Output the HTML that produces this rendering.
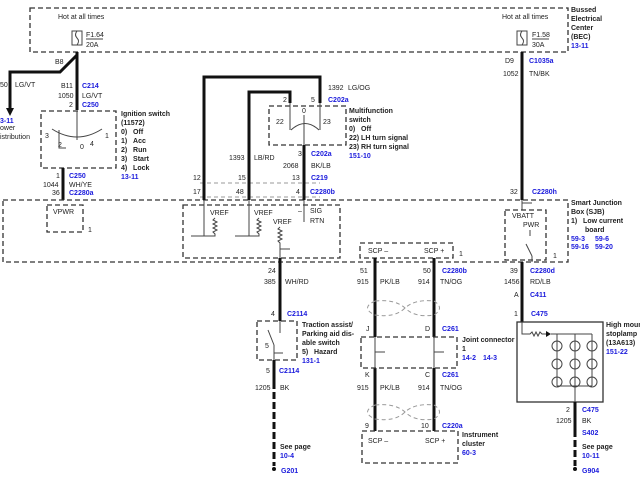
<!DOCTYPE html>
<html><head><style>
body{margin:0;background:#fff}
svg{display:block}
text{font-family:"Liberation Sans",sans-serif;font-size:7px;fill:#222}
.b{fill:#1a1adc;font-weight:bold}
.k{font-weight:bold}
.d{fill:none;stroke:#333;stroke-width:1.3;stroke-dasharray:5,3}
.g{fill:none;stroke:#999;stroke-width:1;stroke-dasharray:4,3}
.t{stroke:#111;stroke-width:3;fill:none}
.n{stroke:#444;stroke-width:1;fill:none}
</style></head><body>
<svg width="640" height="480" viewBox="0 0 640 480">
<!-- BEC -->
<rect x="30" y="8" width="538" height="44" class="d"/>
<text x="58" y="19">Hot at all times</text>
<text x="502" y="19">Hot at all times</text>
<rect x="72" y="31" width="10" height="14" class="n"/><path d="M77 31q-3 4 0 7t0 7" class="n"/>
<text x="86" y="37">F1.64</text><line x1="86" y1="39" x2="103" y2="39" class="n"/><text x="86" y="47">20A</text>
<rect x="517" y="31" width="10" height="14" class="n"/><path d="M522 31q-3 4 0 7t0 7" class="n"/>
<text x="532" y="37">F1.58</text><line x1="532" y1="39" x2="549" y2="39" class="n"/><text x="532" y="47">30A</text>
<text x="571" y="12" class="k">Bussed</text><text x="571" y="21" class="k">Electrical</text><text x="571" y="30" class="k">Center</text><text x="571" y="39" class="k">(BEC)</text><text x="571" y="48" class="b">13-11</text>
<!-- left feed -->
<path d="M77 55L60 72H10V110" class="t"/><path d="M6 108L10 116L14 108Z" fill="#111"/>
<text x="55" y="64">B8</text><text x="0" y="87">50</text><text x="15" y="87">LG/VT</text>
<text x="0" y="123" class="b">3-11</text><text x="0" y="130">ower</text><text x="0" y="139">istribution</text>
<path d="M77 52V110" class="t"/>
<text x="61" y="88">B11</text><text x="82" y="88" class="b">C214</text>
<text x="58" y="98">1050</text><text x="82" y="98">LG/VT</text>
<text x="69" y="107">2</text><text x="82" y="107" class="b">C250</text>
<!-- ignition -->
<rect x="41" y="111" width="75" height="57" class="d"/>
<path d="M77 111V140M52 129Q77 145 102 129M59 130V148H66" class="n"/>
<text x="45" y="138">3</text><text x="58" y="147">2</text><text x="80" y="149">0</text><text x="90" y="146">4</text><text x="105" y="138">1</text>
<text x="121" y="116" class="k">Ignition switch</text><text x="121" y="125" class="k">(11572)</text>
<text x="121" y="134" class="k">0)&#160;&#160;&#160;Off</text><text x="121" y="143" class="k">1)&#160;&#160;&#160;Acc</text><text x="121" y="152" class="k">2)&#160;&#160;&#160;Run</text><text x="121" y="161" class="k">3)&#160;&#160;&#160;Start</text><text x="121" y="170" class="k">4)&#160;&#160;&#160;Lock</text><text x="121" y="179" class="b">13-11</text>
<path d="M63 168V200" class="t"/>
<text x="56" y="178">1</text><text x="69" y="178" class="b">C250</text>
<text x="43" y="187">1044</text><text x="69" y="187">WH/YE</text>
<text x="52" y="195">36</text><text x="69" y="195" class="b">C2280a</text>
<!-- SJB -->
<rect x="3" y="200" width="565" height="62" class="d"/>
<text x="571" y="205" class="k">Smart Junction</text><text x="571" y="214" class="k">Box (SJB)</text><text x="571" y="223" class="k">1)&#160;&#160;&#160;Low current</text><text x="585" y="232" class="k">board</text>
<text x="571" y="241" class="b">59-3</text><text x="595" y="241" class="b">59-6</text><text x="571" y="249" class="b">59-16</text><text x="595" y="249" class="b">59-20</text>
<rect x="47" y="205" width="36" height="27" class="d"/><text x="53" y="214">VPWR</text><text x="88" y="232">1</text>
<rect x="183" y="205" width="157" height="53" class="d"/>
<line x1="200" y1="183" x2="320" y2="183" class="g"/><line x1="200" y1="197" x2="320" y2="197" class="g"/>
<path d="M204 200V77H320V103M249 200V92H290V103" class="t"/>
<path d="M304 145V200" class="t"/>
<text x="193" y="180">12</text><text x="238" y="180">15</text><text x="292" y="180">13</text>
<text x="193" y="194">17</text><text x="236" y="194">48</text><text x="296" y="194">4</text><text x="310" y="194" class="b">C2280b</text>
<text x="229" y="160">1393</text><text x="254" y="160">LB/RD</text>
<path d="M204 200V236H191M249 200V236H235M280 258V249H290M304 200V222" class="n"/>
<path d="M215 218l-2 2 4 2-4 2 4 2-4 2 4 2-4 2 2 2V236H204M259 218l-2 2 4 2-4 2 4 2-4 2 4 2-4 2 2 2V236H249M280 227l-2 2 4 2-4 2 4 2-4 2 4 2-4 2 2 2V258" class="n"/>
<text x="210" y="215">VREF</text><text x="254" y="215">VREF</text><text x="273" y="224">VREF</text>
<text x="298" y="213">–</text><text x="310" y="213">SIG</text><text x="310" y="223">RTN</text>
<!-- multifunction -->
<rect x="269" y="106" width="77" height="39" class="d"/>
<path d="M290 103V130M320 103V130M291 130Q305 117 319 130M304 115V145" class="n"/>
<text x="328" y="90">1392</text><text x="348" y="90">LG/OG</text>
<text x="283" y="102">2</text><text x="311" y="102">5</text><text x="328" y="102" class="b">C202a</text>
<text x="276" y="124">22</text><text x="323" y="124">23</text><text x="302" y="113">0</text>
<text x="349" y="113" class="k">Multifunction</text><text x="349" y="122" class="k">switch</text><text x="349" y="131" class="k">0)&#160;&#160;&#160;Off</text><text x="349" y="140" class="k">22) LH turn signal</text><text x="349" y="149" class="k">23) RH turn signal</text><text x="349" y="158" class="b">151-10</text>
<text x="298" y="156">3</text><text x="311" y="156" class="b">C202a</text>
<text x="283" y="168">2068</text><text x="311" y="168">BK/LB</text>
<text x="311" y="180" class="b">C219</text>
<!-- traction -->
<path d="M280 258V321" class="t"/>
<text x="268" y="273">24</text><text x="264" y="284">385</text><text x="285" y="284">WH/RD</text>
<text x="271" y="316">4</text><text x="287" y="316" class="b">C2114</text>
<rect x="257" y="321" width="40" height="39" class="d"/>
<path d="M280 321V333M268 330L274 345M274 345V360M274 353H283" class="n"/><text x="265" y="348">5</text>
<text x="302" y="327" class="k">Traction assist/</text><text x="302" y="336" class="k">Parking aid dis-</text><text x="302" y="345" class="k">able switch</text><text x="302" y="354" class="k">5)&#160;&#160;&#160;Hazard</text><text x="302" y="363" class="b">131-1</text>
<path d="M274 360V382" class="t"/><path d="M274 382V466" stroke="#111" stroke-width="3" stroke-dasharray="7,3"/>
<text x="266" y="373">5</text><text x="279" y="373" class="b">C2114</text>
<text x="255" y="390">1205</text><text x="280" y="390">BK</text>
<text x="280" y="449" class="k">See page</text><text x="280" y="458" class="b">10-4</text>
<circle cx="274" cy="469" r="2" fill="#111"/><text x="281" y="473" class="b">G201</text>
<!-- SCP -->
<rect x="360" y="243" width="93" height="15" class="d"/><text x="368" y="253">SCP –</text><text x="424" y="253">SCP +</text><text x="459" y="256">1</text>
<path d="M375 258V337M434 258V337M375 368V431M434 368V431" class="t"/>
<path d="M375 337V368M434 337V368" class="n"/>
<text x="360" y="273">51</text><text x="423" y="273">50</text><text x="442" y="273" class="b">C2280b</text>
<text x="357" y="284">915</text><text x="380" y="284">PK/LB</text><text x="418" y="284">914</text><text x="440" y="284">TN/OG</text>
<path d="M375 301Q360 308 375 315Q395 318 405 308Q415 299 434 301Q445 308 434 315Q415 318 405 308Q395 299 375 301Z" class="g" stroke="#555"/>
<path d="M375 405Q360 412 375 419Q395 422 405 412Q415 403 434 405Q445 412 434 419Q415 422 405 412Q395 403 375 405Z" class="g" stroke="#555"/>
<text x="366" y="331">J</text><text x="425" y="331">D</text><text x="442" y="331" class="b">C261</text>
<rect x="361" y="337" width="96" height="31" class="d"/>
<path d="M375 352H385M434 352H444" class="n"/><text x="462" y="342" class="k">Joint connector</text><text x="462" y="351" class="k">1</text><text x="462" y="360" class="b">14-2</text><text x="483" y="360" class="b">14-3</text>
<text x="365" y="377">K</text><text x="425" y="377">C</text><text x="442" y="377" class="b">C261</text>
<text x="357" y="390">915</text><text x="380" y="390">PK/LB</text><text x="418" y="390">914</text><text x="440" y="390">TN/OG</text>
<text x="365" y="428">9</text><text x="421" y="428">10</text><text x="442" y="428" class="b">C220a</text>
<rect x="362" y="431" width="96" height="32" class="d"/><text x="368" y="443">SCP –</text><text x="425" y="443">SCP +</text>
<text x="462" y="437" class="k">Instrument</text><text x="462" y="446" class="k">cluster</text><text x="462" y="455" class="b">60-3</text>
<!-- right -->
<path d="M522 52V200" class="t"/>
<text x="505" y="63">D9</text><text x="529" y="63" class="b">C1035a</text>
<text x="503" y="76">1052</text><text x="529" y="76">TN/BK</text>
<text x="510" y="194">32</text><text x="532" y="194" class="b">C2280h</text>
<path d="M522 200V210M522 203H532" class="n"/>
<rect x="505" y="210" width="41" height="50" class="d"/><text x="512" y="218">VBATT</text><text x="523" y="227">PWR</text>
<path d="M530 230V236M526 244L532 256M532 256V262" class="n"/><text x="553" y="258">1</text>
<path d="M522 262V322" class="t"/>
<text x="510" y="273">39</text><text x="530" y="273" class="b">C2280d</text>
<text x="504" y="284">1456</text><text x="530" y="284">RD/LB</text>
<text x="514" y="297">A</text><text x="530" y="297" class="b">C411</text>
<text x="514" y="316">1</text><text x="531" y="316" class="b">C475</text>
<rect x="517" y="322" width="86" height="80" fill="none" stroke="#333" stroke-width="1.3"/>
<path d="M522 322V334H530l2-2 2 4 2-4 2 4 2-4 2 2H548" class="n"/><path d="M546 331L551 334L546 337Z" fill="#111"/>
<path d="M551 334H592M557 334V386M575 334V386M592 334V386M557 386H592" class="n"/>
<g fill="none" stroke="#444" stroke-width="1">
<circle cx="557" cy="346" r="5"/><circle cx="575" cy="346" r="5"/><circle cx="592" cy="346" r="5"/>
<circle cx="557" cy="364" r="5"/><circle cx="575" cy="364" r="5"/><circle cx="592" cy="364" r="5"/>
<circle cx="557" cy="382" r="5"/><circle cx="575" cy="382" r="5"/><circle cx="592" cy="382" r="5"/></g>
<text x="606" y="327" class="k">High mount</text><text x="606" y="336" class="k">stoplamp</text><text x="606" y="345" class="k">(13A613)</text><text x="606" y="354" class="b">151-22</text>
<path d="M575 386V402" class="n"/>
<path d="M575 402V430" class="t"/><path d="M575 430V466" stroke="#111" stroke-width="3" stroke-dasharray="7,3"/>
<text x="566" y="412">2</text><text x="582" y="412" class="b">C475</text>
<text x="556" y="423">1205</text><text x="582" y="423">BK</text>
<text x="582" y="435" class="b">S402</text>
<text x="582" y="449" class="k">See page</text><text x="582" y="458" class="b">10-11</text>
<circle cx="575" cy="469" r="2" fill="#111"/><text x="582" y="473" class="b">G904</text>
</svg>
</body></html>
